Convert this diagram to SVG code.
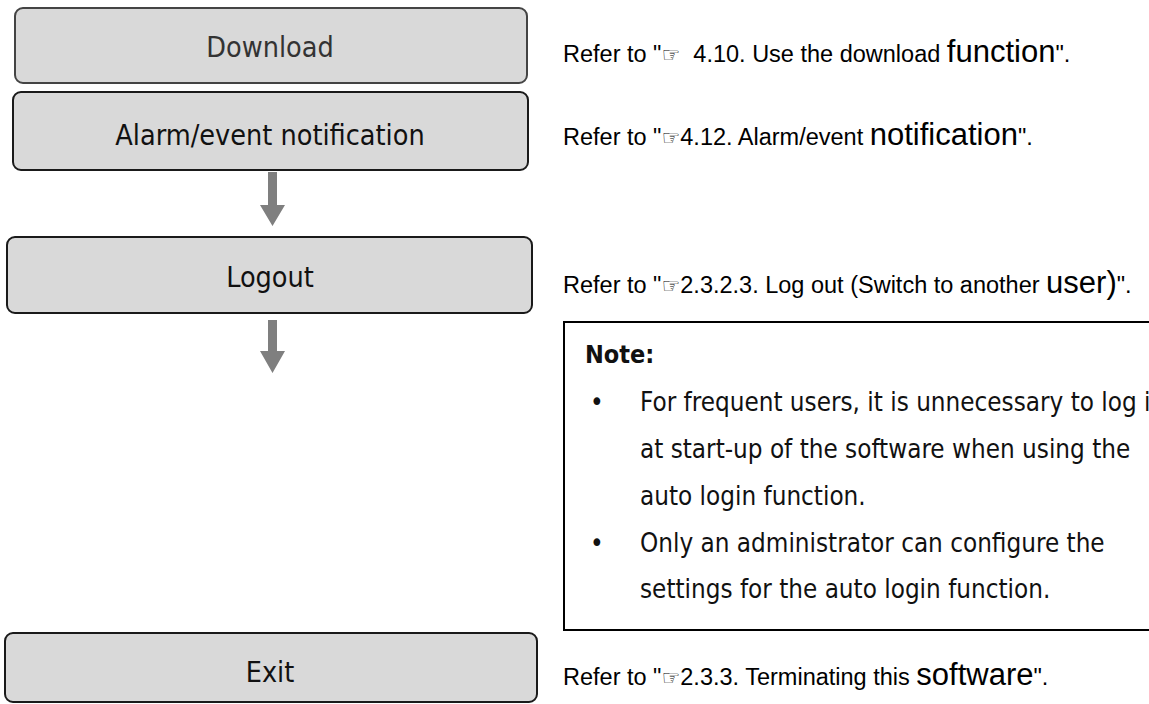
<svg xmlns="http://www.w3.org/2000/svg" width="1149" height="704" viewBox="0 0 1149 704">
<style>
.box{fill:#d9d9d9;stroke:#1a1a1a;stroke-width:2}
.lbl{font-family:"DejaVu Sans Condensed","DejaVu Sans",sans-serif;font-size:28.5px;fill:#111;text-anchor:middle}
.ref{font-family:"Liberation Sans",Arial,sans-serif;font-size:23.5px;fill:#000}
.big{font-size:31px}
.hand{font-family:"DejaVu Sans",sans-serif;font-size:21px}
.note{font-family:"DejaVu Sans Condensed","DejaVu Sans",sans-serif;font-size:25.8px;fill:#111}
.arrow{fill:#7f7f7f}
</style>
<rect width="1149" height="704" fill="#fff"/>
<g id="download">
<rect class="box" x="15" y="8" width="512" height="75" rx="8" style="stroke:#444"/>
<text class="lbl" x="270" y="57" style="fill:#333">Download</text>
</g>
<g id="alarm">
<rect class="box" x="13" y="92" width="515" height="78" rx="8"/>
<text class="lbl" x="270" y="145">Alarm/event notification</text>
</g>
<g id="logout">
<rect class="box" x="7" y="237" width="525" height="76" rx="8"/>
<text class="lbl" x="270" y="287">Logout</text>
</g>
<g id="exit">
<rect class="box" x="5" y="633" width="532" height="69" rx="8"/>
<text class="lbl" x="270" y="682">Exit</text>
</g>
<g id="connectors">
<path class="arrow" d="M268 172H277V205H285L272.5 226L260 205H268Z"/>
<path class="arrow" d="M268 320H277V351H285L272.5 373L260 351H268Z"/>
</g>
<g id="refs">
<text class="ref" x="563" y="62">Refer to "<tspan class="hand">☞</tspan>&#160; 4.10. Use the download <tspan class="big">function</tspan>".</text>
<text class="ref" x="563" y="145">Refer to "<tspan class="hand">☞</tspan>4.12. Alarm/event <tspan class="big">notification</tspan>".</text>
<text class="ref" x="563" y="293">Refer to "<tspan class="hand">☞</tspan>2.3.2.3. Log out (Switch to another <tspan class="big">user)</tspan>".</text>
<text class="ref" x="563" y="685">Refer to "<tspan class="hand">☞</tspan>2.3.3. Terminating this <tspan class="big">software</tspan>".</text>
</g>
<g id="note">
<path d="M1149 322H564V630H1149" fill="none" stroke="#000" stroke-width="2"/>
<text class="note" x="585" y="363" style="font-weight:bold;font-size:25px">Note:</text>
<text class="note" x="590" y="411">•</text>
<text class="note" x="640" y="411">For frequent users, it is unnecessary to log i</text>
<text class="note" x="640" y="458">at start-up of the software when using the</text>
<text class="note" x="640" y="505">auto login function.</text>
<text class="note" x="590" y="552">•</text>
<text class="note" x="640" y="552">Only an administrator can configure the</text>
<text class="note" x="640" y="598">settings for the auto login function.</text>
</g>
</svg>
